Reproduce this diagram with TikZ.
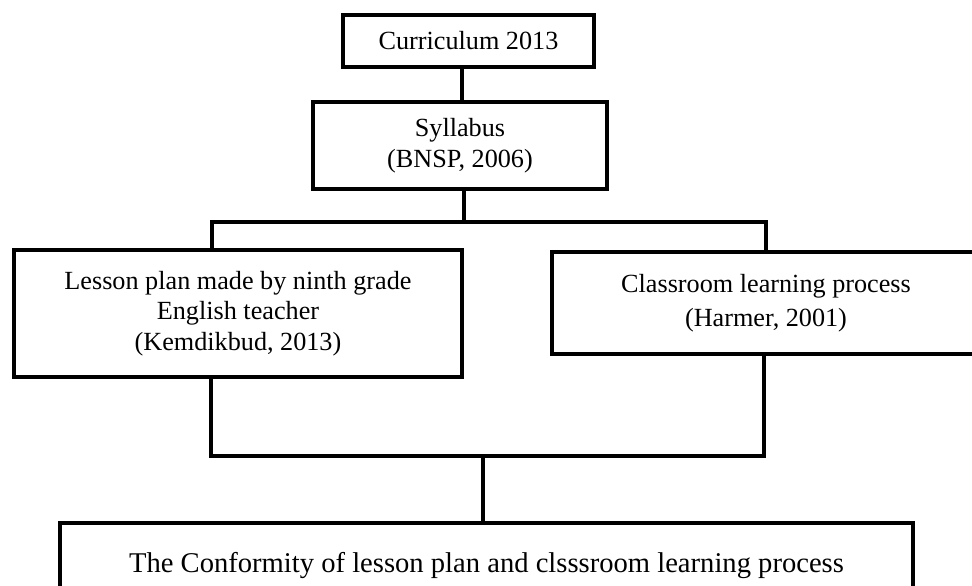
\documentclass[tikz,border=0pt]{standalone}
\usepackage{fontspec}
\setmainfont{Liberation Serif}
\begin{document}
\begin{tikzpicture}[x=0.5pt,y=-0.5pt,
  box/.style={draw, line width=2pt, align=center, inner sep=0pt, fill=white,
    font=\fontsize{13.1}{15.2}\selectfont},
  link/.style={line width=2pt, line join=miter}]
\useasboundingbox (0,0) rectangle (972,585);
% boxes
\node[box, minimum width=125.5pt, minimum height=26pt] (curr) at (468.5,41) {Curriculum 2013};
\node[box, minimum width=147pt, minimum height=43.5pt, font=\fontsize{13.1}{15.8}\selectfont] (syl) at (460,145.5) {Syllabus\\(BNSP, 2006)};
\node[box, minimum width=224pt, minimum height=63.5pt] (lesson) at (238,313.5) {Lesson plan made by ninth grade\\English teacher\\(Kemdikbud, 2013)};
\node[box, minimum width=214pt, minimum height=51pt, font=\fontsize{13.1}{16.8}\selectfont] (class) at (766,303) {\raisebox{0pt}[0pt][0pt]{}Classroom learning process\\(Harmer, 2001)};
\node[box, minimum width=426.5pt, minimum height=42pt, font=\fontsize{14.3}{17}\selectfont] (conf) at (486.5,565) {The Conformity of lesson plan and clsssroom learning process};
% junction points
\coordinate (tl) at (212,222);
\coordinate (tr) at (766,222);
\coordinate (tm) at (464,222);
\coordinate (bl) at (211,456);
\coordinate (br) at (764,456);
\coordinate (bm) at (483,456);
% connectors
\draw[link] ([xshift=-3.25pt]curr.south) -- ([xshift=-3.25pt]curr.south |- syl.north);
\draw[link] ([xshift=2pt]syl.south) -- (tm);
\draw[link] (lesson.north -| tl) -- (tl) -- (tr) -- (class.north -| tr);
\draw[link] (lesson.south -| bl) -- (bl) -- (br) -- (class.south -| br);
\draw[link] (bm) -- (bm |- conf.north);
\end{tikzpicture}
\end{document}
